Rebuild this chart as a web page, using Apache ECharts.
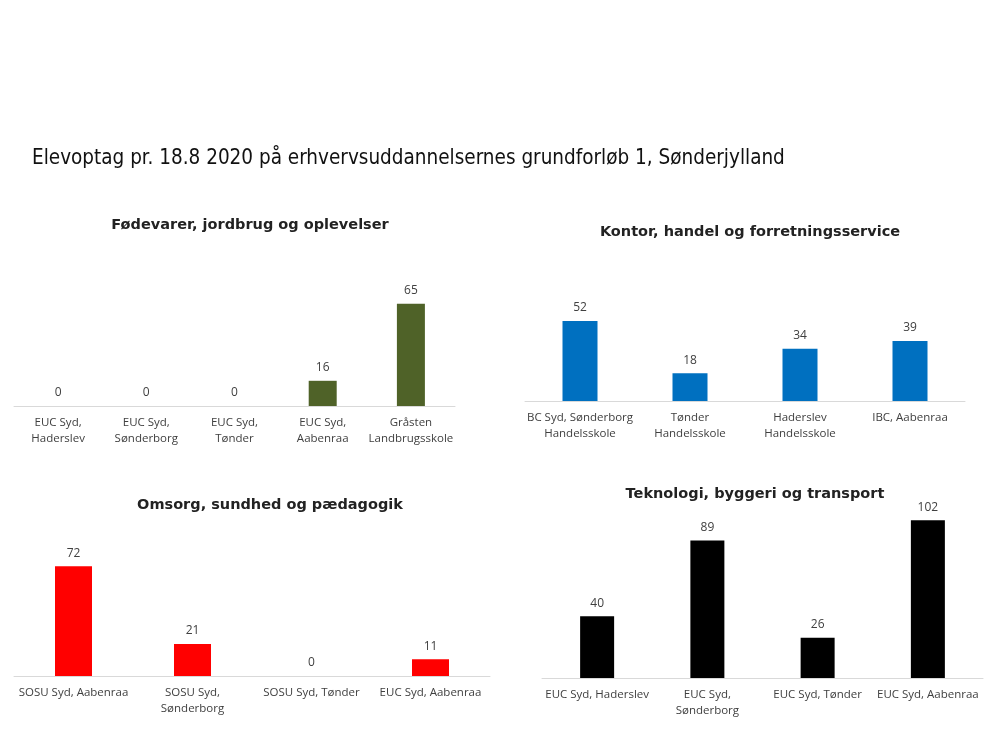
<!DOCTYPE html>
<html><head><meta charset="utf-8">
<script src="https://cdn.jsdelivr.net/npm/echarts@6/dist/echarts.min.js"></script>
<style>html,body{margin:0;padding:0;background:#fff}#c{width:1000px;height:750px}</style>
</head><body><div id="c"></div>
<script>
const mainTitle = "Elevoptag pr. 18.8 2020 på erhvervsuddannelsernes grundforløb 1, Sønderjylland";
const titles = ["Fødevarer, jordbrug og oplevelser", "Kontor, handel og forretningsservice", "Omsorg, sundhed og pædagogik", "Teknologi, byggeri og transport"];
const cats1 = ["EUC Syd,\nHaderslev", "EUC Syd,\nSønderborg", "EUC Syd,\nTønder", "EUC Syd,\nAabenraa", "Gråsten\nLandbrugsskole"];
const vals1 = [0, 0, 0, 16, 65];
const cats2 = ["BC Syd, Sønderborg\nHandelsskole", "Tønder\nHandelsskole", "Haderslev\nHandelsskole", "IBC, Aabenraa"];
const vals2 = [52, 18, 34, 39];
const cats3 = ["SOSU Syd, Aabenraa", "SOSU Syd,\nSønderborg", "SOSU Syd, Tønder", "EUC Syd, Aabenraa"];
const vals3 = [72, 21, 0, 11];
const cats4 = ["EUC Syd, Haderslev", "EUC Syd,\nSønderborg", "EUC Syd, Tønder", "EUC Syd, Aabenraa"];
const vals4 = [40, 89, 26, 102];
const colors = ["#4f6228", "#0070c0", "#ff0000", "#000000"];

const cats = [cats1, cats2, cats3, cats4];
const vals = [vals1, vals2, vals3, vals4];
const grids = [
  {left: 14, width: 441, top: 280, height: 126},
  {left: 525, width: 440, top: 278, height: 123},
  {left: 14, width: 476, top: 554, height: 122},
  {left: 542, width: 441, top: 508, height: 170}
];
const ymax = [80, 80, 80, 110];
const barW = [28, 35, 37, 34];
const titlePos = [[245, 213], [745, 220], [265, 493], [750, 482]];
const labelFont = "'Open Sans', 'DejaVu Sans', sans-serif";

const chart = echarts.init(document.getElementById('c'));
const option = {
  animation: false,
  backgroundColor: '#fff',
  title: [{
    text: mainTitle, left: 27, top: 143,
    textStyle: {fontFamily: "'Liberation Sans Narrow', 'DejaVu Sans Condensed', sans-serif", fontSize: 20.5, fontWeight: 'normal', color: '#111'}
  }].concat(titles.map((t, i) => ({
    text: t, left: titlePos[i][0], top: titlePos[i][1], textAlign: 'center',
    textStyle: {fontFamily: "'DejaVu Sans', sans-serif", fontSize: 14.5, fontWeight: 'bold', color: '#222'}
  }))),
  grid: grids,
  xAxis: cats.map((c, i) => ({
    type: 'category', gridIndex: i, data: c,
    axisLine: {lineStyle: {color: '#d9d9d9', width: 1}},
    axisTick: {show: false},
    axisLabel: {interval: 0, color: '#404040', fontSize: 11.5, fontFamily: labelFont, margin: 9, lineHeight: 16}
  })),
  yAxis: ymax.map((m, i) => ({
    type: 'value', gridIndex: i, min: 0, max: m, show: false, splitLine: {show: false}
  })),
  series: vals.map((v, i) => ({
    type: 'bar', xAxisIndex: i, yAxisIndex: i, data: v, barWidth: barW[i],
    itemStyle: {color: colors[i]},
    label: {show: true, position: 'top', distance: 7, color: '#404040', fontSize: 12, fontFamily: labelFont}
  }))
};
chart.setOption(option);
</script></body></html>
